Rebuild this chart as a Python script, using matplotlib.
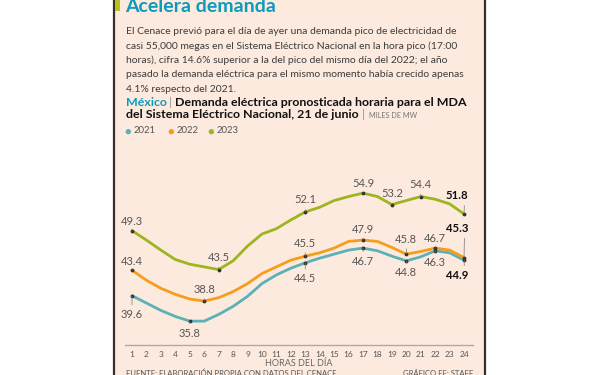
import numpy as np
import matplotlib.pyplot as plt
from matplotlib.patches import Rectangle
from matplotlib.lines import Line2D

# Datos (miles de MW)
horas = list(range(1, 25))
demanda_2021 = [39.6, 38.5, 37.4, 36.5, 35.8, 35.8, 36.8, 38.0, 39.5, 41.4, 42.7, 43.7,
                44.5, 45.2, 45.8, 46.4, 46.7, 46.3, 45.5, 44.8, 45.4, 46.3, 46.0, 44.9]
demanda_2022 = [43.4, 41.9, 40.7, 39.8, 39.1, 38.8, 39.3, 40.2, 41.4, 42.9, 43.9, 44.9,
                45.5, 46.0, 46.7, 47.7, 47.9, 47.7, 46.8, 45.8, 46.2, 46.7, 46.4, 45.3]
demanda_2023 = [49.3, 47.9, 46.4, 45.0, 44.3, 43.9, 43.5, 44.8, 47.0, 48.8, 49.6, 50.9,
                52.1, 52.8, 53.8, 54.4, 54.9, 54.4, 53.2, 53.8, 54.4, 54.0, 53.3, 51.8]

anios = ["2021", "2022", "2023"]
colores = ["#5cb0b6", "#f59d1c", "#9db51f"]

# horas con etiqueta de valor
etiquetas_2021 = [1, 5, 13, 17, 20, 22, 24]
etiquetas_2022 = [1, 6, 13, 17, 20, 22, 24]
etiquetas_2023 = [1, 7, 13, 17, 19, 21, 24]

W, H = 600, 375
fondo = "#fdeade"
gris = "#3c3c3c"

plt.rcParams['font.family'] = ['Lato', 'DejaVu Sans']

fig = plt.figure(figsize=(6, 3.75), dpi=100)
fig.patch.set_facecolor("white")


def px(x, y):
    # pixel (desde arriba a la izquierda) -> fraccion de figura
    return x / W, 1 - y / H


# panel de fondo y bordes
fig.patches.append(Rectangle(px(115, 375), 370 / W, 1, transform=fig.transFigure,
                             facecolor=fondo, edgecolor="none", zorder=-5))
fig.lines.append(Line2D([114.3 / W, 114.3 / W], [0, 1], transform=fig.transFigure,
                        color="#3a2e28", lw=1.6, zorder=-4))
fig.lines.append(Line2D([485 / W, 485 / W], [0, 1], transform=fig.transFigure,
                        color="#3a2e28", lw=1.6, zorder=-4))
fig.patches.append(Rectangle(px(115, 11), 5 / W, 11 / H, transform=fig.transFigure,
                             facecolor="#b7c11c", edgecolor="none", zorder=-4))

# titulo y texto
fig.text(*px(125, 12), "Acelera demanda", color="#0a9bbd", fontsize=14,
         fontweight="bold", va="baseline")

cuerpo = [
    "El Cenace previó para el día de ayer una demanda pico de electricidad de",
    "casi 55,000 megas en el Sistema Eléctrico Nacional en la hora pico (17:00",
    "horas), cifra 14.6% superior a la del pico del mismo día del 2022; el año",
    "pasado la demanda eléctrica para el mismo momento había crecido apenas",
    "4.1% respecto del 2021.",
]
for i, linea in enumerate(cuerpo):
    fig.text(*px(126, 31.5 + i * 14.45), linea, color=gris, fontsize=7.5, va="center")

fig.text(*px(126, 102), "México", color="#0a9bbd", fontsize=8.9, fontweight="bold", va="center")
fig.text(*px(169, 102), "|", color="#999999", fontsize=8.9, va="center")
fig.text(*px(175, 102), "Demanda eléctrica pronosticada horaria para el MDA",
         color="#111111", fontsize=8.9, fontweight="bold", va="center")
fig.text(*px(126, 114.5), "del Sistema Eléctrico Nacional, 21 de junio",
         color="#111111", fontsize=8.9, fontweight="bold", va="center")
fig.text(*px(362, 114.5), "|", color="#999999", fontsize=8.9, va="center")
fig.text(*px(369, 115), "MILES DE MW", color="#777777", fontsize=5.2, va="center")

# leyenda
for xd, anio, c in zip([128, 171, 211], anios, colores):
    fig.text(*px(xd, 131), "\u25CF", color=c, fontsize=8, va="center", ha="center")
    fig.text(*px(xd + 6, 131), anio, color="#555555", fontsize=6.8, va="center")

# grafica
ax = fig.add_axes([125 / W, 30 / H, 348 / W, 175 / H])
ax.set_facecolor("none")
ax.set_xlim(0.515, 24.62)
ax.set_ylim(32.24, 58.36)

series = [demanda_2021, demanda_2022, demanda_2023]
for serie, c in zip(series, colores):
    ax.plot(horas, serie, color=c, lw=2, solid_capstyle="round", zorder=2)

desfases = {
    "2021": {1: -19, 5: -12, 13: -16, 17: -13, 20: -12, 22: -12, 24: -15},
    "2022": {1: 9, 6: 12, 13: 13, 17: 11, 20: 15, 22: 10, 24: 29},
    "2023": {1: 9, 7: 12, 13: 12, 17: 10, 19: 11, 21: 12, 24: 18},
}
etiquetas = [etiquetas_2021, etiquetas_2022, etiquetas_2023]

for anio, serie, horas_et in zip(anios, series, etiquetas):
    for h in horas_et:
        v = serie[h - 1]
        dy = desfases[anio][h]
        ultimo = h == 24
        rel_y = 0 if dy > 0 else 1
        ax.scatter([h], [v], s=3, color="#333333", zorder=4)
        ax.annotate(f"{v:.1f}", xy=(h, v), xytext=(4 if ultimo else 0, dy),
                    textcoords="offset pixels",
                    ha="right" if ultimo else "center", va="center", zorder=5,
                    fontsize=8.2 if ultimo else 8,
                    fontweight="bold" if ultimo else "normal",
                    color="#111111" if ultimo else "#555555",
                    arrowprops=dict(arrowstyle="-", color="#777777", lw=0.5,
                                    shrinkA=1, shrinkB=0,
                                    relpos=(0.84 if ultimo else 0.5, rel_y)))

for lado in ["top", "right", "left"]:
    ax.spines[lado].set_visible(False)
ax.spines["bottom"].set_color("#b0a8a2")
ax.spines["bottom"].set_linewidth(1)
ax.set_yticks([])
ax.set_xticks(horas)
ax.tick_params(axis="x", length=0, pad=4, labelsize=6, labelcolor="#555555")
ax.set_xlabel("HORAS DEL DÍA", fontsize=6.5, color="#666666", labelpad=1)

# fuente
fig.text(*px(126, 377), "FUENTE: ELABORACIÓN PROPIA CON DATOS DEL CENACE",
         color="#555555", fontsize=5.5, va="bottom")
fig.text(*px(473, 377), "GRÁFICO EE: STAFF", color="#555555", fontsize=5.5,
         va="bottom", ha="right")

fig.savefig("out.png", dpi=100)
